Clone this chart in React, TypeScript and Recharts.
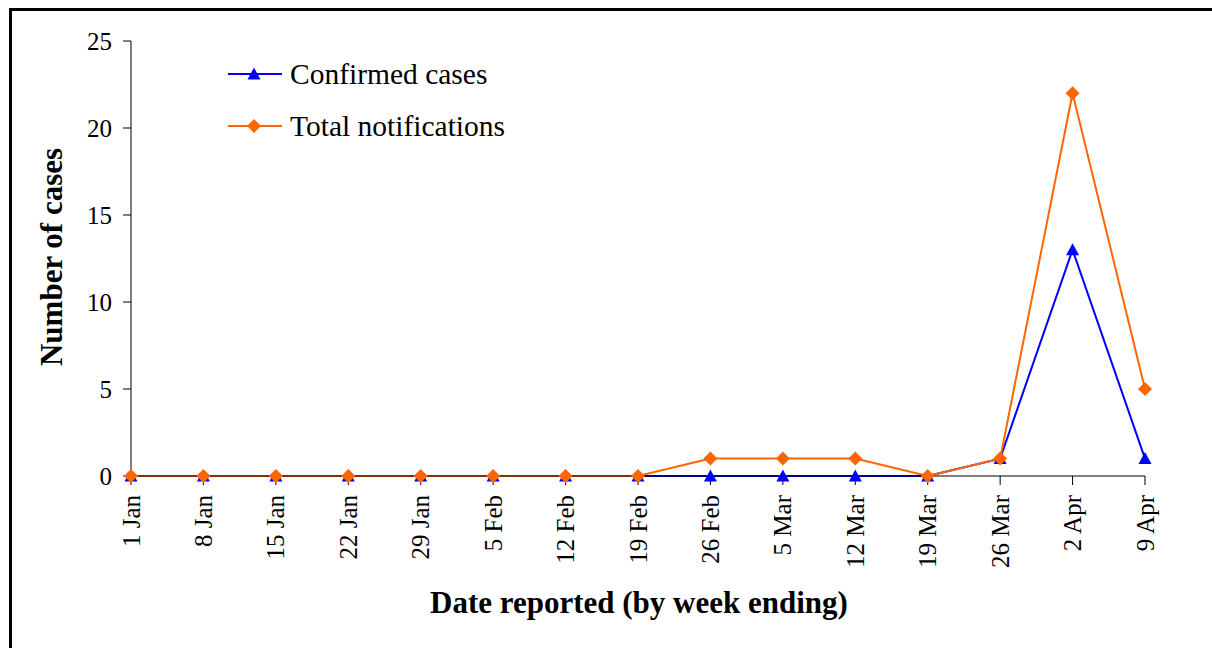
import React from "react";
import { LineChart, Line, XAxis, YAxis, Legend } from "recharts";

const weeks = ["1 Jan", "8 Jan", "15 Jan", "22 Jan", "29 Jan", "5 Feb", "12 Feb", "19 Feb", "26 Feb", "5 Mar", "12 Mar", "19 Mar", "26 Mar", "2 Apr", "9 Apr"];
const confirmedCases = [0, 0, 0, 0, 0, 0, 0, 0, 0, 0, 0, 0, 1, 13, 1];
const totalNotifications = [0, 0, 0, 0, 0, 0, 0, 0, 1, 1, 1, 0, 1, 22, 5];
const yTicks = [0, 5, 10, 15, 20, 25];

const data = weeks.map((w, i) => ({ week: w, confirmed: confirmedCases[i], total: totalNotifications[i] }));

const FONT = "'Liberation Serif', 'Times New Roman', serif";
const BLUE = "#0000FF";
const ORANGE = "#FF6600";

const Triangle = (props: any) => {
  const { cx, cy } = props;
  if (cx == null || cy == null) return null;
  return <polygon points={`${cx},${cy - 6.5} ${cx - 6.5},${cy + 5.5} ${cx + 6.5},${cy + 5.5}`} fill={BLUE} />;
};

const Diamond = (props: any) => {
  const { cx, cy } = props;
  if (cx == null || cy == null) return null;
  return <polygon points={`${cx},${cy - 7} ${cx + 7},${cy} ${cx},${cy + 7} ${cx - 7},${cy}`} fill={ORANGE} />;
};

const XTick = (props: any) => {
  const { x, payload } = props;
  const ax = x + 8.5;
  const ay = 495;
  return (
    <text x={ax} y={ay} transform={`rotate(-90, ${ax}, ${ay})`} textAnchor="end" fontFamily={FONT} fontSize={25} fill="#000">
      {payload.value}
    </text>
  );
};

const LegendContent = () => (
  <svg width={320} height={90} style={{ display: "block", overflow: "visible" }}>
    <line x1={8} y1={20} x2={62} y2={20} stroke={BLUE} strokeWidth={2} />
    <polygon points={`34,13.5 27.5,25.5 40.5,25.5`} fill={BLUE} />
    <text x={70} y={30} fontFamily={FONT} fontSize={29.5} fill="#000">Confirmed cases</text>
    <line x1={8} y1={72} x2={62} y2={72} stroke={ORANGE} strokeWidth={2} />
    <polygon points={`34,65 41,72 34,79 27,72`} fill={ORANGE} />
    <text x={70} y={82} fontFamily={FONT} fontSize={29.5} fill="#000">Total notifications</text>
  </svg>
);

export default function App() {
  return (
    <div style={{ position: "absolute", left: 0, top: 0, width: 1212, height: 648, overflow: "hidden", background: "#fff" }}>
      <div style={{ position: "absolute", left: 9, top: 8, width: 1400, height: 800, border: "3px solid #000", boxSizing: "border-box" }} />
      <div style={{ position: "absolute", left: 0, top: 0 }}>
        <LineChart width={1212} height={648} data={data} margin={{ top: 41, right: 67, left: 0, bottom: 42 }}>
          <XAxis
            dataKey="week"
            height={130}
            tick={<XTick />}
            tickSize={9}
            axisLine={{ stroke: "#000", strokeWidth: 1 }}
            tickLine={{ stroke: "#000", strokeWidth: 1 }}
            interval={0}
            label={{
              content: () => (
                <text x={639} y={613} textAnchor="middle" fontFamily={FONT} fontSize={31} fontWeight="bold" fill="#000">
                  Date reported (by week ending)
                </text>
              ),
            }}
          />
          <YAxis
            width={131}
            domain={[0, 25]}
            ticks={yTicks}
            interval={0}
            tickSize={8}
            tickMargin={11}
            axisLine={{ stroke: "#000", strokeWidth: 1 }}
            tickLine={{ stroke: "#000", strokeWidth: 1 }}
            tick={{ fontFamily: FONT, fontSize: 25, fill: "#000" }}
            label={{
              content: () => (
                <text x={62} y={257} transform="rotate(-90, 62, 257)" textAnchor="middle" fontFamily={FONT} fontSize={31} fontWeight="bold" fill="#000">
                  Number of cases
                </text>
              ),
            }}
          />
          <Legend content={<LegendContent />} wrapperStyle={{ position: "absolute", left: 220, top: 54, width: 0, height: 0, overflow: "visible" }} />
          <Line dataKey="confirmed" name="Confirmed cases" stroke={BLUE} strokeWidth={2} dot={<Triangle />} activeDot={false} isAnimationActive={false} />
          <Line dataKey="total" name="Total notifications" stroke={ORANGE} strokeWidth={2} dot={<Diamond />} activeDot={false} isAnimationActive={false} />
        </LineChart>
      </div>
    </div>
  );
}
